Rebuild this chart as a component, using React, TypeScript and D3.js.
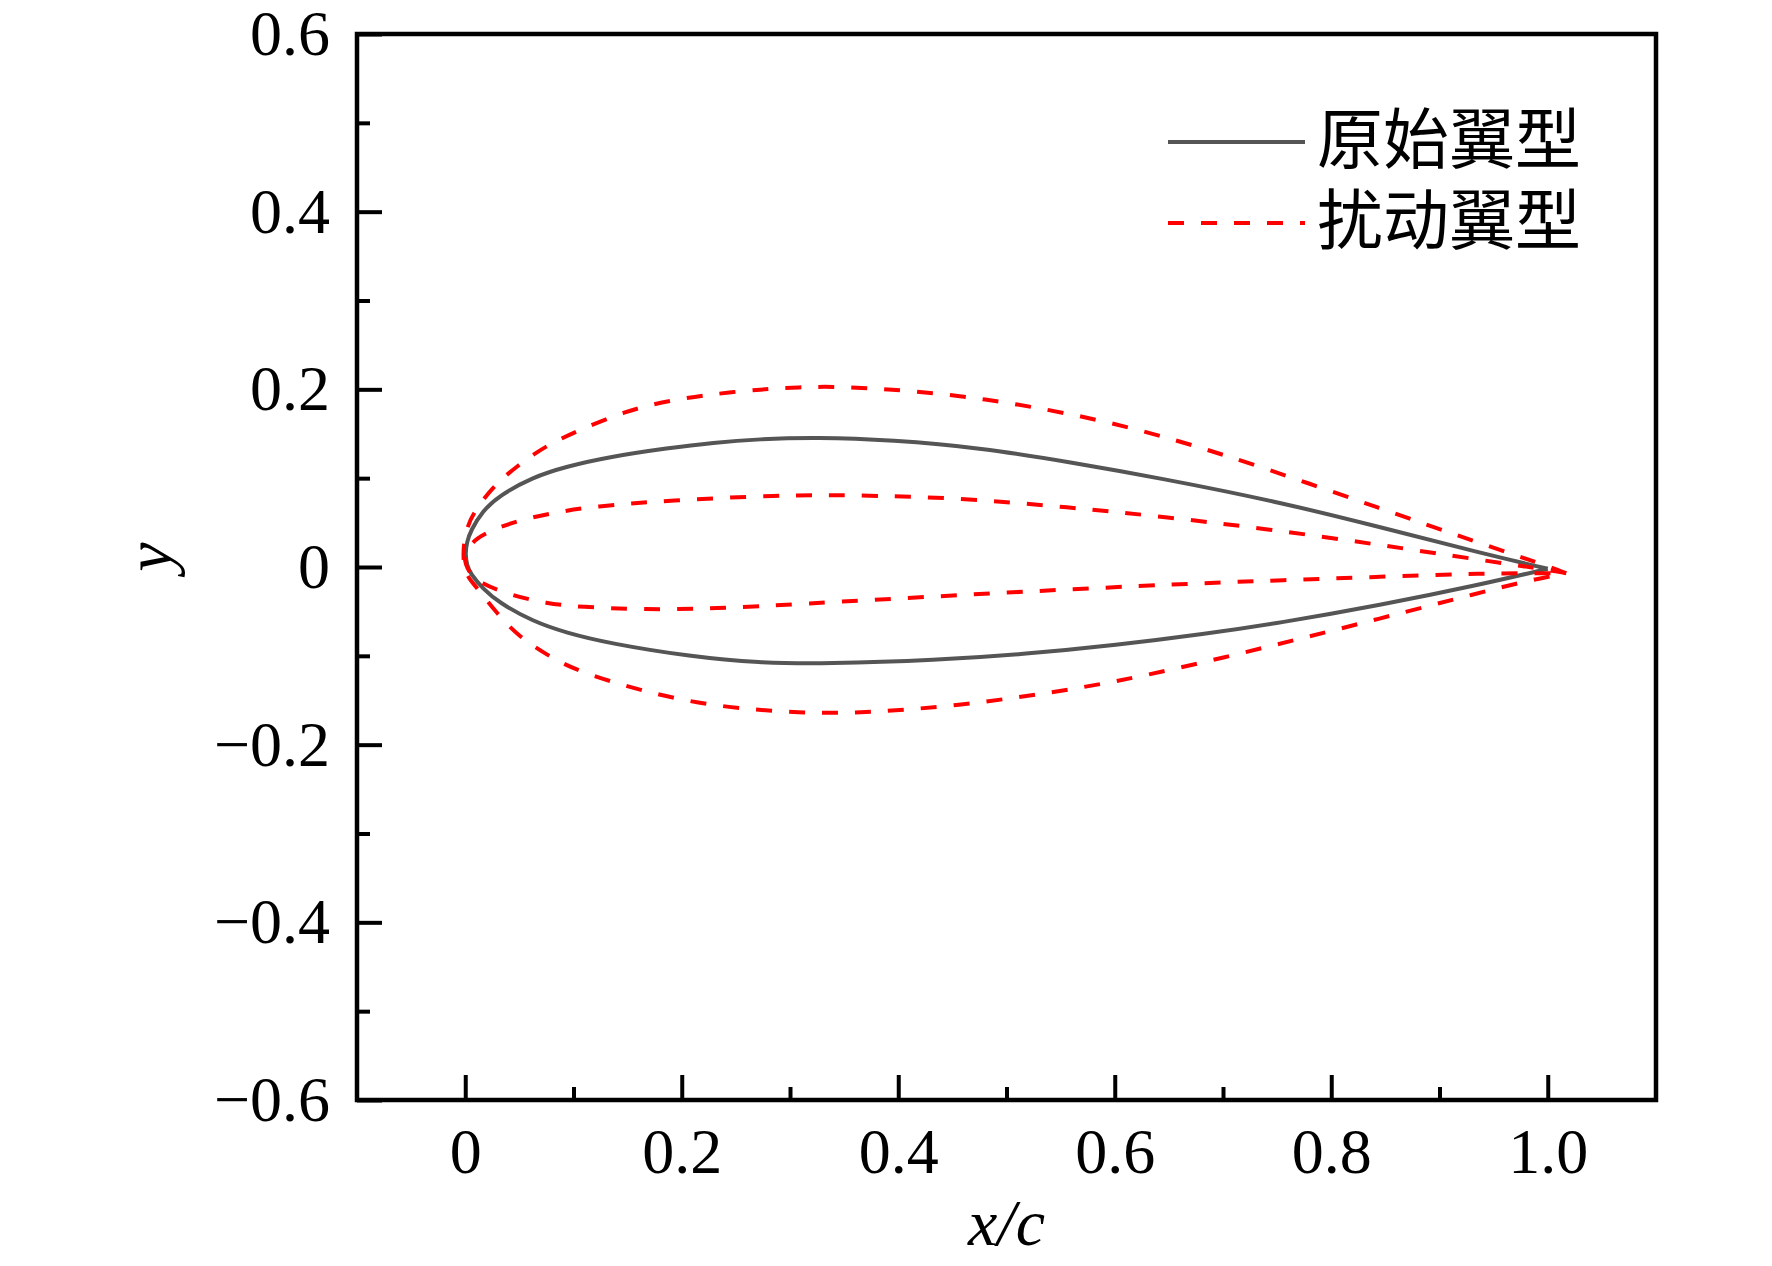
import React, { useRef, useEffect } from "react";
import * as d3 from "d3";

type Pt = [number, number];

// original airfoil, leading edge -> trailing edge
const baseUpper: Pt[] = [
    [0, 0.015], [0.0015, 0.028], [0.005, 0.041], [0.016, 0.063], [0.031, 0.080], [0.062, 0.101],
    [0.093, 0.113], [0.133, 0.124], [0.188, 0.134], [0.229, 0.140], [0.271, 0.144], [0.324, 0.146],
    [0.394, 0.143], [0.477, 0.134], [0.559, 0.118], [0.642, 0.100], [0.749, 0.074], [0.845, 0.045],
    [0.937, 0.016], [1.0, -0.002],
];
const baseLower: Pt[] = [
    [0, 0.015], [0.0015, 0.002], [0.005, -0.008], [0.016, -0.024], [0.031, -0.040], [0.062, -0.061],
    [0.093, -0.074], [0.133, -0.086], [0.209, -0.101], [0.271, -0.108], [0.333, -0.109], [0.435, -0.105],
    [0.518, -0.098], [0.601, -0.088], [0.683, -0.0755], [0.752, -0.063], [0.845, -0.043], [0.937, -0.020],
    [1.0, -0.002],
];

// perturbed airfoils (thick and thin)
const thickUpper: Pt[] = [
    [-0.002, 0.012], [-0.001, 0.030], [0.002, 0.045], [0.007, 0.060], [0.025, 0.090], [0.047, 0.113],
    [0.075, 0.137], [0.105, 0.154], [0.147, 0.175], [0.188, 0.188], [0.250, 0.198], [0.311, 0.203],
    [0.353, 0.203], [0.415, 0.198], [0.477, 0.190], [0.559, 0.173], [0.642, 0.149], [0.740, 0.111],
    [0.845, 0.066], [0.937, 0.027], [1.0, 0.001], [1.017, -0.007],
];
const thickLower: Pt[] = [
    [-0.002, 0.012], [-0.0005, -0.004], [0.004, -0.014], [0.010, -0.022], [0.029, -0.052], [0.050, -0.079],
    [0.078, -0.101], [0.105, -0.118], [0.167, -0.141], [0.229, -0.157], [0.311, -0.165], [0.373, -0.164],
    [0.456, -0.156], [0.539, -0.142], [0.621, -0.125], [0.745, -0.089], [0.845, -0.058], [0.937, -0.029],
    [0.983, -0.015], [1.017, -0.007],
];
const thinUpper: Pt[] = [
    [-0.002, 0.012], [0.003, 0.022], [0.010, 0.032], [0.025, 0.042], [0.056, 0.055], [0.087, 0.062],
    [0.117, 0.068], [0.188, 0.075], [0.291, 0.081], [0.353, 0.081], [0.456, 0.078], [0.559, 0.067],
    [0.642, 0.057], [0.740, 0.043], [0.845, 0.025], [0.937, 0.008], [1.0, -0.003], [1.017, -0.007],
];
const thinLower: Pt[] = [
    [-0.002, 0.012], [0.003, -0.006], [0.013, -0.018], [0.043, -0.032], [0.075, -0.041], [0.105, -0.045],
    [0.167, -0.048], [0.229, -0.047], [0.311, -0.0415], [0.435, -0.033], [0.559, -0.025], [0.683, -0.018],
    [0.752, -0.015], [0.845, -0.011], [0.937, -0.007], [1.017, -0.007],
];

const xMajor = [0, 0.2, 0.4, 0.6, 0.8, 1.0];
const xMinor = [0.1, 0.3, 0.5, 0.7, 0.9];
const yMajor = [-0.6, -0.4, -0.2, 0, 0.2, 0.4, 0.6];
const yMinor = [-0.5, -0.3, -0.1, 0.1, 0.3, 0.5];

const legendLabels = ["原始翼型", "扰动翼型"];

const W = 1772;
const H = 1266;

// closed outline: trailing edge -> upper -> leading edge -> lower -> trailing edge
const outline = (upper: Pt[], lower: Pt[]): Pt[] => [...upper.slice().reverse(), ...lower.slice(1)];

const App: React.FC = () => {
    const svgRef = useRef<SVGSVGElement>(null);

    useEffect(() => {
        const svgElement = svgRef.current;
        if (!svgElement) return;

        const margin = { top: 34, right: 116, bottom: 166, left: 357 };
        const width = W - margin.left - margin.right;
        const height = H - margin.top - margin.bottom;

        d3.select(svgElement).selectAll("*").remove();
        const svg = d3.select(svgElement);
        const chart = svg.append("g").attr("transform", `translate(${margin.left}, ${margin.top})`);

        const x = d3.scaleLinear().domain([-0.1, 1.1]).range([0, width]);
        const y = d3.scaleLinear().domain([-0.6, 0.6]).range([height, 0]);

        const fmt = (d: number) => (d === 0 ? "0" : d3.format(".1f")(d));
        const serif = "'Liberation Serif', 'Times New Roman', serif";

        // axes with inward ticks
        const styleAxis = (g: d3.Selection<SVGGElement, unknown, null, undefined>) => {
            g.select(".domain").remove();
            g.selectAll("line").attr("stroke", "#000").attr("stroke-width", 4);
            g.selectAll("text").attr("font-family", serif).attr("font-size", 64).attr("fill", "#000");
        };

        chart.append("g")
            .call(d3.axisLeft(y).tickValues(yMinor).tickSize(-13).tickFormat(() => ""))
            .call(styleAxis);
        chart.append("g")
            .call(d3.axisLeft(y).tickValues(yMajor).tickSize(-25).tickPadding(27).tickFormat((d) => fmt(+d)))
            .call(styleAxis);
        chart.append("g")
            .attr("transform", `translate(0, ${height})`)
            .call(d3.axisBottom(x).tickValues(xMinor).tickSize(-13).tickFormat(() => ""))
            .call(styleAxis);
        chart.append("g")
            .attr("transform", `translate(0, ${height})`)
            .call(d3.axisBottom(x).tickValues(xMajor).tickSize(-25).tickPadding(28).tickFormat((d) => fmt(+d)))
            .call(styleAxis);

        // curves (B-spline smooths the hand-read points; ends stay at the trailing edge)
        const line = d3
            .line<Pt>()
            .x((d) => x(d[0]))
            .y((d) => y(d[1]))
            .curve(d3.curveBasis);

        chart.append("path")
            .attr("d", line(outline(baseUpper, baseLower)))
            .attr("fill", "none")
            .attr("stroke", "#555")
            .attr("stroke-width", 4)
            .attr("stroke-linejoin", "round");

        [outline(thickUpper, thickLower), outline(thinUpper, thinLower)].forEach((pts) => {
            chart.append("path")
                .attr("d", line(pts))
                .attr("fill", "none")
                .attr("stroke", "#ff0000")
                .attr("stroke-width", 4)
                .attr("stroke-dasharray", "16,17");
        });

        // frame
        chart.append("rect")
            .attr("width", width)
            .attr("height", height)
            .attr("fill", "none")
            .attr("stroke", "#000")
            .attr("stroke-width", 4.5);

        // axis titles
        svg.append("text")
            .attr("x", margin.left + width / 2)
            .attr("y", 1245)
            .attr("text-anchor", "middle")
            .attr("font-family", serif)
            .attr("font-style", "italic")
            .attr("font-size", 66)
            .text("x/c");

        svg.append("text")
            .attr("transform", `translate(171, 557) rotate(-90)`)
            .attr("text-anchor", "middle")
            .attr("font-family", serif)
            .attr("font-style", "italic")
            .attr("font-size", 66)
            .text("y");

        // legend
        const legend = svg.append("g");
        const rows = [
            { label: legendLabels[0], color: "#555", dash: null as string | null, ly: 142 },
            { label: legendLabels[1], color: "#ff0000", dash: "16,17", ly: 223 },
        ];
        rows.forEach((r) => {
            legend.append("line")
                .attr("x1", 1168)
                .attr("x2", 1305)
                .attr("y1", r.ly)
                .attr("y2", r.ly)
                .attr("stroke", r.color)
                .attr("stroke-width", 4)
                .attr("stroke-dasharray", r.dash);
            legend.append("text")
                .attr("x", 1317)
                .attr("y", r.ly + 21)
                .attr("font-family", "'Noto Sans CJK SC', sans-serif")
                .attr("font-size", 66)
                .attr("fill", "#000")
                .text(r.label);
        });
    }, []);

    return (
        <svg
            ref={svgRef}
            width={W}
            height={H}
            viewBox={`0 0 ${W} ${H}`}
            style={{ position: "absolute", left: 0, top: 0, background: "#fff" }}
        />
    );
};

export default App;
